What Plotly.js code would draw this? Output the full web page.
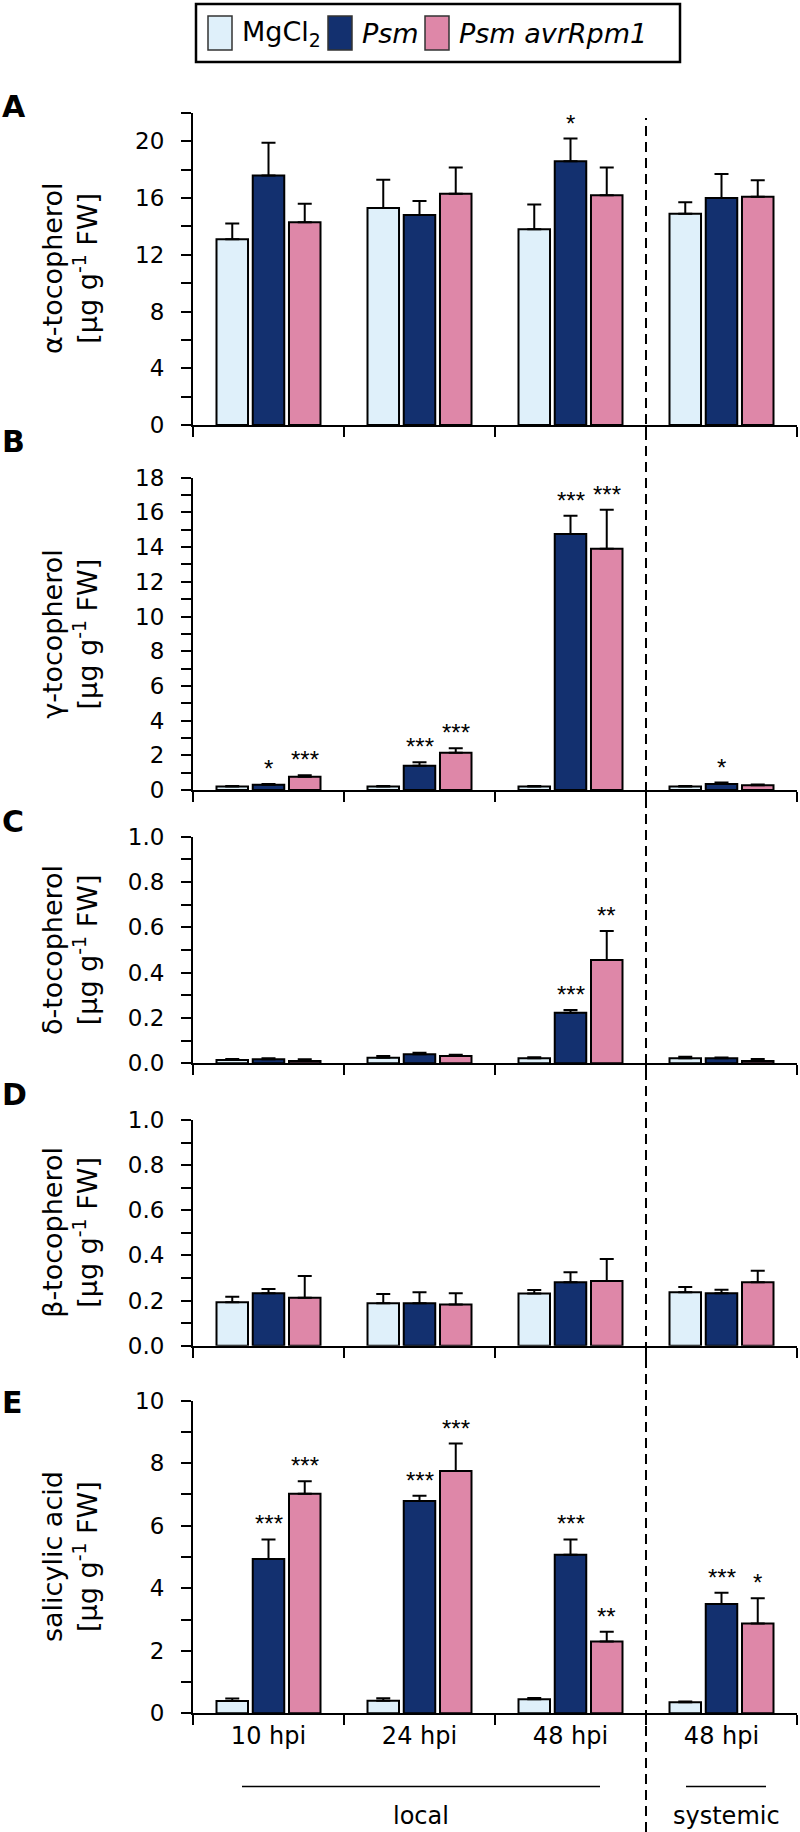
<!DOCTYPE html>
<html>
<head>
<meta charset="utf-8">
<script src="https://cdn.plot.ly/plotly-3.0.1.min.js"></script>
<style>html,body{margin:0;padding:0;background:#fff;}#chart{width:800px;height:1832px;}</style>
</head>
<body>
<div id="chart"></div>
<script>
// ---------- data ----------
const categories = ['local 10 hpi', 'local 24 hpi', 'local 48 hpi', 'systemic 48 hpi'];
const tickLabels = ['10 hpi', '24 hpi', '48 hpi', '48 hpi'];
const seriesNames = ['MgCl<sub>2</sub>', '<i>Psm</i>', '<i>Psm avrRpm1</i>'];
const seriesColors = ['#dff0fa', '#13306f', '#de87a8'];

// A: alpha-tocopherol
const alphaMgCl2 = [13.1, 15.3, 13.8, 14.9];
const alphaMgCl2Err = [1.1, 2.0, 1.75, 0.8];
const alphaPsm = [17.6, 14.8, 18.6, 16.0];
const alphaPsmErr = [2.3, 1.0, 1.6, 1.7];
const alphaAvr = [14.3, 16.3, 16.2, 16.1];
const alphaAvrErr = [1.3, 1.85, 1.95, 1.15];
const alphaPsmStars = ['', '', '*', ''];
const alphaAvrStars = ['', '', '', ''];

// B: gamma-tocopherol
const gammaMgCl2 = [0.2, 0.2, 0.2, 0.2];
const gammaMgCl2Err = [0.03, 0.03, 0.03, 0.03];
const gammaPsm = [0.3, 1.4, 14.75, 0.35];
const gammaPsmErr = [0.05, 0.2, 1.05, 0.08];
const gammaAvr = [0.77, 2.15, 13.9, 0.27];
const gammaAvrErr = [0.08, 0.25, 2.25, 0.05];
const gammaPsmStars = ['*', '***', '***', '*'];
const gammaAvrStars = ['***', '***', '***', ''];

// C: delta-tocopherol
const deltaMgCl2 = [0.015, 0.024, 0.022, 0.022];
const deltaMgCl2Err = [0.004, 0.008, 0.005, 0.007];
const deltaPsm = [0.018, 0.04, 0.223, 0.022];
const deltaPsmErr = [0.004, 0.007, 0.012, 0.004];
const deltaAvr = [0.01, 0.032, 0.456, 0.01];
const deltaAvrErr = [0.008, 0.006, 0.128, 0.009];
const deltaPsmStars = ['', '', '***', ''];
const deltaAvrStars = ['', '', '**', ''];

// D: beta-tocopherol
const betaMgCl2 = [0.192, 0.188, 0.231, 0.237];
const betaMgCl2Err = [0.025, 0.041, 0.016, 0.023];
const betaPsm = [0.232, 0.188, 0.281, 0.232];
const betaPsmErr = [0.019, 0.049, 0.044, 0.016];
const betaAvr = [0.213, 0.183, 0.287, 0.281];
const betaAvrErr = [0.096, 0.049, 0.097, 0.051];
const betaPsmStars = ['', '', '', ''];
const betaAvrStars = ['', '', '', ''];

// E: salicylic acid
const saMgCl2 = [0.39, 0.4, 0.45, 0.35];
const saMgCl2Err = [0.08, 0.08, 0.04, 0.03];
const saPsm = [4.94, 6.79, 5.07, 3.5];
const saPsmErr = [0.62, 0.17, 0.49, 0.36];
const saAvr = [7.02, 7.75, 2.3, 2.87];
const saAvrErr = [0.4, 0.88, 0.31, 0.81];
const saPsmStars = ['***', '***', '***', '***'];
const saAvrStars = ['***', '***', '**', '*'];

const panelLetters = ['A', 'B', 'C', 'D', 'E'];
const yTitles = [
  '\u03b1-tocopherol<br>[\u00b5g g<sup>-1</sup> FW]',
  '\u03b3-tocopherol<br>[\u00b5g g<sup>-1</sup> FW]',
  '\u03b4-tocopherol<br>[\u00b5g g<sup>-1</sup> FW]',
  '\u03b2-tocopherol<br>[\u00b5g g<sup>-1</sup> FW]',
  'salicylic acid<br>[\u00b5g g<sup>-1</sup> FW]'
];
const groupLabels = ['local', 'systemic'];

// ---------- layout helpers ----------
const W = 800, H = 1832;
const px = x => x / W;
const py = y => 1 - y / H;
const FONT = 'DejaVu Sans, Arial, sans-serif';

const panels = [
  {vals: [alphaMgCl2, alphaPsm, alphaAvr], errs: [alphaMgCl2Err, alphaPsmErr, alphaAvrErr], stars: [null, alphaPsmStars, alphaAvrStars], range: [0, 22], dtick: 4, minor: 2, fmt: 'd', top: 113, bottom: 425, letterY: 107},
  {vals: [gammaMgCl2, gammaPsm, gammaAvr], errs: [gammaMgCl2Err, gammaPsmErr, gammaAvrErr], stars: [null, gammaPsmStars, gammaAvrStars], range: [0, 18], dtick: 2, minor: 1, fmt: 'd', top: 477.7, bottom: 790, letterY: 441},
  {vals: [deltaMgCl2, deltaPsm, deltaAvr], errs: [deltaMgCl2Err, deltaPsmErr, deltaAvrErr], stars: [null, deltaPsmStars, deltaAvrStars], range: [0, 1], dtick: 0.2, minor: 0.1, fmt: '.1f', top: 836.7, bottom: 1063.3, letterY: 821},
  {vals: [betaMgCl2, betaPsm, betaAvr], errs: [betaMgCl2Err, betaPsmErr, betaAvrErr], stars: [null, betaPsmStars, betaAvrStars], range: [0, 1], dtick: 0.2, minor: 0.1, fmt: '.1f', top: 1120, bottom: 1345.7, letterY: 1094},
  {vals: [saMgCl2, saPsm, saAvr], errs: [saMgCl2Err, saPsmErr, saAvrErr], stars: [null, saPsmStars, saAvrStars], range: [0, 10], dtick: 2, minor: 1, fmt: 'd', top: 1400.7, bottom: 1713.3, letterY: 1402}
];

const BARGAP = 0.28, BARGROUPGAP = 0.13;
const slot = (1 - BARGAP) / seriesNames.length;

const data = [];
const annotations = [];
const layout = {
  width: W, height: H,
  margin: {l: 0, r: 0, t: 0, b: 0},
  paper_bgcolor: '#ffffff', plot_bgcolor: 'rgba(0,0,0,0)',
  barmode: 'group', bargap: BARGAP, bargroupgap: BARGROUPGAP,
  showlegend: false,
  font: {family: FONT, color: '#000'},
  shapes: [], annotations: annotations
};

panels.forEach((p, k) => {
  const n = k + 1;
  const xa = 'x' + (n === 1 ? '' : n), ya = 'y' + (n === 1 ? '' : n);
  for (let s = 0; s < 3; s++) {
    data.push({
      type: 'bar', name: seriesNames[s], x: categories, y: p.vals[s],
      xaxis: xa, yaxis: ya,
      marker: {color: seriesColors[s], line: {color: '#000', width: 2}},
      error_y: {type: 'data', symmetric: false, array: p.errs[s], arrayminus: p.errs[s].map(() => 0),
        color: '#000', thickness: 2, width: 7},
      hoverinfo: 'y'
    });
    if (p.stars[s]) {
      p.stars[s].forEach((t, i) => {
        if (!t) return;
        annotations.push({
          xref: xa, yref: ya, x: i + (s - 1) * slot, y: p.vals[s][i] + p.errs[s][i],
          text: t, showarrow: false, xanchor: 'center', yanchor: 'bottom', yshift: 0,
          font: {family: 'Liberation Sans, Arial, sans-serif', size: 24, color: '#000'}
        });
      });
    }
  }
  const axKeyX = 'xaxis' + (n === 1 ? '' : n), axKeyY = 'yaxis' + (n === 1 ? '' : n);
  layout[axKeyX] = {
    domain: [px(193), px(797)], anchor: ya, type: 'category',
    categoryorder: 'array', categoryarray: categories,
    tickmode: 'array', tickvals: categories, ticktext: tickLabels,
    tickson: 'boundaries', ticks: 'outside', ticklen: 10, tickwidth: 2, tickcolor: '#000',
    showline: true, linewidth: 2, linecolor: '#000', showgrid: false, zeroline: false,
    showticklabels: n === 5, tickfont: {family: FONT, size: 24, color: '#000'},
    range: [-0.5, 3.5], fixedrange: true
  };
  layout[axKeyY] = {
    domain: [py(p.bottom), py(p.top)], anchor: xa, range: p.range,
    tickmode: 'linear', tick0: 0, dtick: p.dtick, tickformat: p.fmt,
    ticks: 'outside', ticklen: 10, tickwidth: 2, tickcolor: '#000', ticklabelstandoff: 12,
    minor: {dtick: p.minor, tick0: 0, ticks: 'outside', ticklen: 10, tickwidth: 2, tickcolor: '#000', showgrid: false},
    showline: true, linewidth: 2, linecolor: '#000', showgrid: false, zeroline: false,
    tickfont: {family: FONT, size: 23, color: '#000'}, fixedrange: true
  };
  annotations.push({
    xref: 'paper', yref: 'paper', x: px(70), y: py((p.top + p.bottom) / 2),
    text: yTitles[k], textangle: -90, showarrow: false, xanchor: 'center', yanchor: 'middle',
    font: {family: FONT, size: 27, color: '#000'}
  });
  annotations.push({
    xref: 'paper', yref: 'paper', x: 0, y: py(p.letterY),
    text: '<b>' + panelLetters[k] + '</b>', showarrow: false, xanchor: 'left', yanchor: 'middle',
    font: {family: FONT, size: 30, color: '#000'}
  });
});

// dashed separator between local and systemic
layout.shapes.push({type: 'line', xref: 'x', yref: 'paper', x0: 2.5, x1: 2.5, y0: 0, y1: py(118),
  line: {color: '#000', width: 2, dash: '10px,6px'}, layer: 'above'});

// group underlines + labels
layout.shapes.push({type: 'line', xref: 'paper', yref: 'paper', x0: px(242), x1: px(600), y0: py(1786.5), y1: py(1786.5), line: {color: '#000', width: 1.5}});
layout.shapes.push({type: 'line', xref: 'paper', yref: 'paper', x0: px(686), x1: px(766), y0: py(1786.5), y1: py(1786.5), line: {color: '#000', width: 1.5}});
annotations.push({xref: 'paper', yref: 'paper', x: px(421), y: py(1816), text: groupLabels[0], showarrow: false, xanchor: 'center', yanchor: 'middle', font: {family: FONT, size: 24, color: '#000'}});
annotations.push({xref: 'paper', yref: 'paper', x: px(726), y: py(1816), text: groupLabels[1], showarrow: false, xanchor: 'center', yanchor: 'middle', font: {family: FONT, size: 24, color: '#000'}});

// custom legend
const legBox = {x0: 196, x1: 680, y0: 4, y1: 62};
layout.shapes.push({type: 'rect', xref: 'paper', yref: 'paper', x0: px(legBox.x0), x1: px(legBox.x1), y0: py(legBox.y1), y1: py(legBox.y0), line: {color: '#000', width: 2.5}, fillcolor: 'rgba(0,0,0,0)'});
const legSwatchX = [208, 328, 425];
legSwatchX.forEach((sx, s) => {
  layout.shapes.push({type: 'rect', xref: 'paper', yref: 'paper', x0: px(sx), x1: px(sx + 24), y0: py(50), y1: py(16), line: {color: '#333', width: 1.5}, fillcolor: seriesColors[s]});
  annotations.push({xref: 'paper', yref: 'paper', x: px(sx + 32), y: py(33), text: seriesNames[s], showarrow: false, xanchor: 'left', yanchor: 'middle', font: {family: FONT, size: 27, color: '#000'}});
});

Plotly.newPlot('chart', data, layout, {staticPlot: true});
</script>
</body>
</html>
